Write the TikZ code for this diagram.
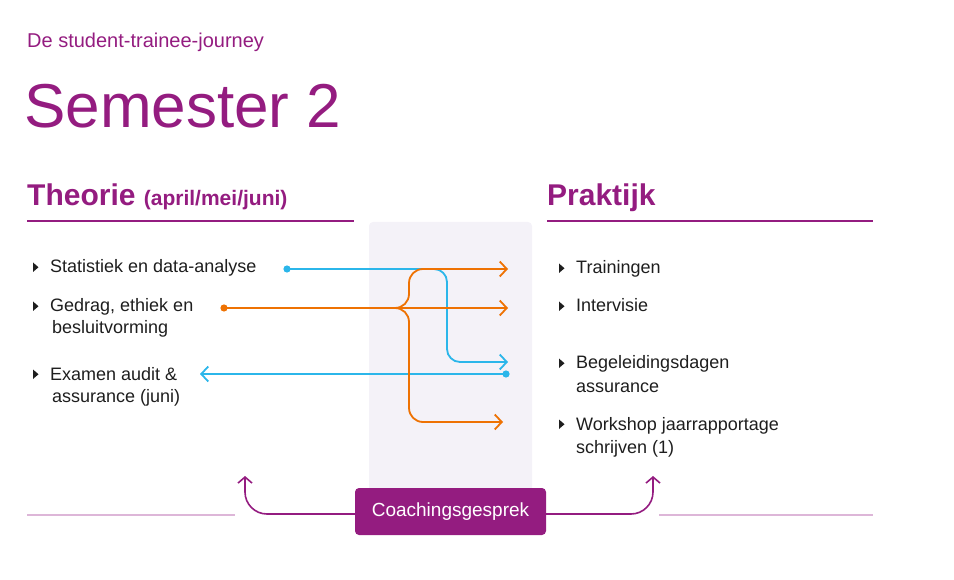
\documentclass[tikz,border=0pt]{standalone}
\usepackage{fontspec}
\setmainfont{Liberation Sans}
\usetikzlibrary{arrows.meta}
\definecolor{ppl}{HTML}{941C80}
\definecolor{orn}{HTML}{EE7203}
\definecolor{blu}{HTML}{2BB6EA}
\definecolor{bgc}{HTML}{F4F2F8}
\definecolor{lpk}{HTML}{DDB6D8}
\definecolor{txt}{HTML}{1E1E1E}
\newcommand\mybul[1]{\fill[txt] ([shift={(-17pt,1pt)}]#1.base west) -- ++(0pt,9.5pt) -- ++(5.5pt,-4.75pt) -- cycle;}
\begin{document}
\begin{tikzpicture}[x=1pt,y=-1pt,
  lbl/.style={anchor=base west,inner sep=0pt,text=txt,font=\fontsize{18}{22}\selectfont},
  hd/.style={anchor=base west,inner sep=0pt,text=ppl},
  tipb/.style={-{Straight Barb[length=7pt,width=15pt]}},
  conn/.style={line width=1.8pt},
  bconn/.style={conn,draw=blu},
  oconn/.style={conn,draw=orn},
  pconn/.style={line width=1.6pt,draw=ppl,-{Straight Barb[length=6pt,width=14pt]}},
  rule/.style={line width=1.8pt,draw=ppl},
  coach/.style={fill=ppl,text=white,rounded corners=4pt,minimum width=191pt,minimum height=47pt,inner sep=0pt,font=\fontsize{19}{23}\selectfont}
]
\useasboundingbox (0,0) rectangle (954,580);
% background panel
\fill[bgc,rounded corners=4pt] (369,222) rectangle (532,505);
% titles
\node[hd,font=\fontsize{20}{24}\selectfont] (sub) at (27,48) {De student-trainee-journey};
\node[hd,font=\fontsize{62}{70}\selectfont] (sem) at (24,128) {Semester 2};
\node[hd] (th) at (27,206) {\fontsize{30}{36}\selectfont\bfseries Theorie \fontsize{21}{25}\selectfont(april/mei/juni)};
\node[hd,font=\fontsize{30}{36}\selectfont\bfseries] (pr) at (547,206) {Praktijk};
\coordinate (r1a) at (27,221); \coordinate (r1b) at (354,221);
\coordinate (r2a) at (547,221); \coordinate (r2b) at (873,221);
\draw[rule] (r1a) -- (r1b);
\draw[rule] (r2a) -- (r2b);
% left items
\node[lbl] (l1) at (50,273) {Statistiek en data-analyse};
\node[lbl] (l2) at (50,312) {Gedrag, ethiek en};
\node[lbl] (l2b) at (52,334) {besluitvorming};
\node[lbl] (l3) at (50,380) {Examen audit \&};
\node[lbl] (l3b) at (52,402) {assurance (juni)};
\mybul{l1}\mybul{l2}\mybul{l3}
% right items
\node[lbl] (p1) at (576,274) {Trainingen};
\node[lbl] (p2) at (576,312) {Intervisie};
\node[lbl] (p3) at (576,369) {Begeleidingsdagen};
\node[lbl] (p3b) at (576,392) {assurance};
\node[lbl] (p4) at (576,430) {Workshop jaarrapportage};
\node[lbl] (p4b) at (576,453) {schrijven (1)};
\mybul{p1}\mybul{p2}\mybul{p3}\mybul{p4}
% connector coordinates
\coordinate (d1) at (287,269);
\coordinate (d2) at (224,308);
\coordinate (br) at (393,308);
\coordinate (a1) at (508,269);
\coordinate (a2) at (508,308);
\coordinate (a3) at (508,362);
\coordinate (a4) at (503,422);
\coordinate (d4) at (506,374);
\coordinate (a5) at (200,374);
% blue
\draw[bconn,tipb,rounded corners=13pt] (d1) -- ++(160,0) |- (a3);
\draw[bconn,tipb] (d4) -- (a5);
\fill[blu] (d1) circle (3.6pt);
\fill[blu] (d4) circle (3.6pt);
% orange
\draw[oconn,tipb] (d2) -- (a2);
\draw[oconn,tipb,rounded corners=14pt] (br) -- ++(16,0) |- (a1);
\draw[oconn,tipb,rounded corners=14pt] (br) -- ++(16,0) |- (a4);
\fill[orn] (d2) circle (3.6pt);
% bottom
\coordinate (b1a) at (27,515); \coordinate (b1b) at (235,515);
\coordinate (b2a) at (659,515); \coordinate (b2b) at (873,515);
\draw[lpk,line width=1.6pt] (b1a) -- (b1b);
\draw[lpk,line width=1.6pt] (b2a) -- (b2b);
\node[coach] (cg) at (450.5,511.5) {Coachingsgesprek};
\coordinate (c1) at (245,476);
\coordinate (c2) at (653,476);
\draw[pconn,rounded corners=22pt] (cg.west |- 0,514) -| (c1);
\draw[pconn,rounded corners=22pt] (cg.east |- 0,514) -| (c2);
\end{tikzpicture}
\end{document}
